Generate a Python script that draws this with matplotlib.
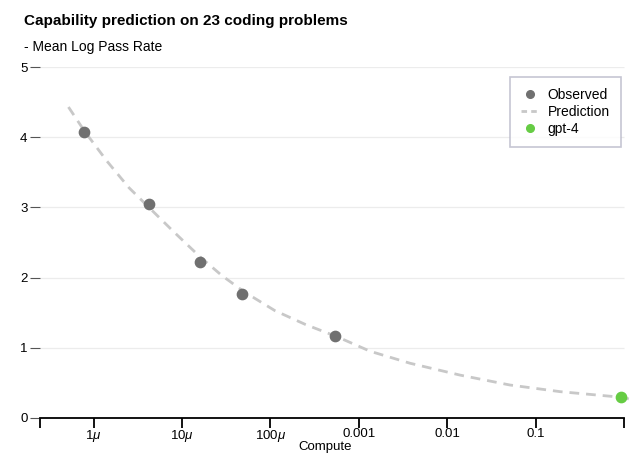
import numpy as np
import matplotlib
matplotlib.use("Agg")
from matplotlib import pyplot as plt
from matplotlib.lines import Line2D

plt.rcParams["font.family"] = ["Liberation Sans", "DejaVu Sans"]
plt.rcParams["mathtext.fontset"] = "custom"
plt.rcParams["mathtext.it"] = "Liberation Sans:italic"
plt.rcParams["mathtext.rm"] = "Liberation Sans"

# observed points (log10 compute, mean log pass rate)
obs_logx = [-6.107, -5.372, -4.795, -4.32, -3.268]
obs_y = [4.07, 3.05, 2.22, 1.77, 1.17]

gpt4_logx = [-0.033]
gpt4_y = [0.30]

# prediction curve
pred_logx = [-6.285, -6.1, -5.85, -5.6, -5.35, -5.1, -4.8, -4.55, -4.3, -3.95,
             -3.6, -3.25, -2.87, -2.42, -1.85, -1.29, -0.72, -0.025, 0.103]
pred_y = [4.43, 4.08, 3.66, 3.28, 2.97, 2.66, 2.30, 2.03, 1.80, 1.53,
          1.33, 1.16, 0.95, 0.78, 0.61, 0.47, 0.375, 0.295, 0.258]

xtick_vals = [1e-6, 1e-5, 1e-4, 1e-3, 1e-2, 1e-1, 1.0]
xtick_labels = ["1$\\mu$", "10$\\mu$", "100$\\mu$", "0.001", "0.01", "0.1", ""]
yticks = [0, 1, 2, 3, 4, 5]

xlo = 10 ** -6.607
xhi = 10 ** 0.182

fig = plt.figure(figsize=(6.4, 4.58), dpi=100)
ax = fig.add_axes([40 / 640, 40 / 458, 600 / 640, 351 / 458])
ax.set_xscale("log")
ax.set_xlim(xlo, xhi)
ax.set_ylim(0, 5)

ax.hlines(yticks[1:], xlo, 1.0, color="#ececec", lw=0.9, zorder=0)

ax.plot(10 ** np.array(pred_logx), pred_y, color="#c8c8c8", lw=2,
        dashes=(3.5, 2.5), zorder=2, clip_on=False)
ax.scatter(10 ** np.array(obs_logx), obs_y, s=55, color="#707070", zorder=3)
ax.scatter(10 ** np.array(gpt4_logx), gpt4_y, s=55, color="#66cc44", zorder=3,
           clip_on=False)

for s in ["top", "right", "left"]:
    ax.spines[s].set_visible(False)
ax.spines["bottom"].set_bounds(xlo, 1.0)
ax.spines["bottom"].set_linewidth(1.3)

ax.set_xticks([xlo] + xtick_vals)
ax.set_xticklabels([""] + xtick_labels)
ax.xaxis.set_minor_locator(matplotlib.ticker.NullLocator())
ax.tick_params(axis="x", length=7, width=1.3, labelsize=9.5, pad=0)

ax.set_yticks(yticks)
ax.set_yticklabels([str(v) for v in yticks])
ax.tick_params(axis="y", length=7, width=0.8, color="#555555", labelsize=9.5, pad=2)

fig.text(325 / 640, 1 - 447 / 458, "Compute", fontsize=9.5, ha="center", va="center")

fig.text(24 / 640, 1 - 21 / 458, "Capability prediction on 23 coding problems",
         fontsize=11, fontweight="bold", va="center", ha="left")
fig.text(24 / 640, 1 - 47 / 458, "- Mean Log Pass Rate", fontsize=10,
         va="center", ha="left")

handles = [
    Line2D([], [], marker="o", ls="none", color="#707070", markersize=5.5),
    Line2D([], [], color="#c8c8c8", lw=2, dashes=(2, 1.5)),
    Line2D([], [], marker="o", ls="none", color="#66cc44", markersize=5.5),
]
leg = ax.legend(handles, ["Observed", "Prediction", "gpt-4"],
                loc="upper right", bbox_to_anchor=(581 / 600, 341 / 351),
                borderaxespad=0, fontsize=10, frameon=True, fancybox=False,
                handlelength=1.3, handletextpad=0.6, labelspacing=0.2,
                borderpad=0.8)
leg.get_frame().set_edgecolor("#b8b8c8")
leg.get_frame().set_linewidth(1.2)

fig.savefig("out.png", dpi=100)
